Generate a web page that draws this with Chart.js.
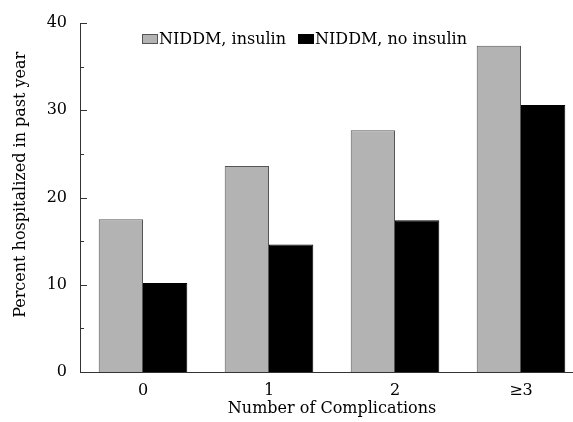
<!DOCTYPE html>
<html>
<head>
<meta charset="utf-8">
<script src="https://cdn.jsdelivr.net/npm/chart.js@4/dist/chart.umd.min.js"></script>
<style>
  html, body { margin: 0; padding: 0; background: #fff; overflow: hidden; }
  #wrap { position: relative; width: 584px; height: 422px; }
</style>
</head>
<body>
<div id="wrap"><canvas id="c"></canvas></div>
<script>
const categories = ['0', '1', '2', '\u22653'];
const seriesNames = ['NIDDM, insulin', 'NIDDM, no insulin'];
const insulinValues = [17.5, 23.6, 27.7, 37.4];
const noInsulinValues = [10.2, 14.6, 17.4, 30.6];
const yTickLabels = [0, 10, 20, 30, 40];
const xTitle = 'Number of Complications';
const yTitle = 'Percent hospitalized in past year';

const FONT = "'DejaVu Serif', serif";

const innerTicks = {
  id: 'innerTicks',
  afterDraw(chart) {
    const y = chart.scales.y;
    const ctx = chart.ctx;
    const x0 = chart.chartArea.left;
    ctx.save();
    ctx.strokeStyle = '#333';
    ctx.lineWidth = 1;
    for (let v = y.min; v <= y.max; v += 5) {
      const py = Math.round(y.getPixelForValue(v)) + 0.5;
      const major = yTickLabels.includes(v);
      ctx.beginPath();
      ctx.moveTo(x0, py);
      ctx.lineTo(x0 + (major ? 7 : 4), py);
      ctx.stroke();
    }
    ctx.restore();
  }
};

const customLegend = {
  id: 'customLegend',
  afterDraw(chart) {
    const ctx = chart.ctx;
    ctx.save();
    ctx.font = "16px " + FONT;
    ctx.textBaseline = 'alphabetic';
    let x = 142;
    const base = 44;
    chart.data.datasets.forEach((ds, i) => {
      ctx.fillStyle = ds.backgroundColor;
      ctx.fillRect(x, 34, 16, 10);
      ctx.strokeStyle = ds.borderColor;
      ctx.lineWidth = 1;
      ctx.strokeRect(x + 0.5, 34.5, 15, 9);
      ctx.fillStyle = '#000';
      ctx.fillText(ds.label, x + 17, base);
      x += 17 + ctx.measureText(ds.label).width + 12;
    });
    ctx.restore();
  }
};

new Chart(document.getElementById('c'), {
  type: 'bar',
  data: {
    labels: categories,
    datasets: [
      { label: seriesNames[0], data: insulinValues, backgroundColor: '#b3b3b3', borderColor: '#555', borderWidth: 1 },
      { label: seriesNames[1], data: noInsulinValues, backgroundColor: '#000', borderColor: '#000', borderWidth: 1 }
    ]
  },
  options: {
    responsive: true,
    maintainAspectRatio: false,
    animation: false,
    layout: { padding: { top: 23, left: 0, right: 0, bottom: 0 } },
    datasets: { bar: { categoryPercentage: 0.703, barPercentage: 1.0 } },
    plugins: { legend: { display: false }, tooltip: { enabled: false } },
    scales: {
      x: {
        grid: { display: false, drawTicks: false },
        border: { display: true, color: '#333', width: 1 },
        ticks: { color: '#000', padding: 9, font: { family: FONT, size: 16 } },
        title: { display: true, text: xTitle, color: '#000', font: { family: FONT, size: 16 }, padding: { top: 0, bottom: 4 } },
        afterFit(s) { s.height = 50; }
      },
      y: {
        min: 0, max: 40,
        grid: { display: false, drawTicks: false },
        border: { display: true, color: '#333', width: 1 },
        ticks: {
          stepSize: 5, color: '#000', padding: 13,
          font: { family: FONT, size: 16 },
          callback: (v) => yTickLabels.includes(v) ? String(v) : ''
        },
        title: { display: true, text: '     ' + yTitle, color: '#000', font: { family: FONT, size: 16 }, padding: { top: 11, bottom: 0 } },
        afterFit(s) { s.width = 80; }
      }
    }
  },
  plugins: [innerTicks, customLegend]
});
</script>
</body>
</html>
